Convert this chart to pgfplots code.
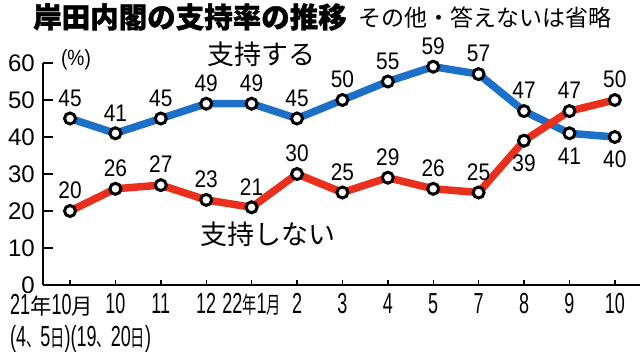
\documentclass[border=0pt]{standalone}
\usepackage{fontspec}
\setmainfont{Noto Sans CJK JP}
\newfontfamily\titlef[BoldFeatures={FakeBold=1.2}]{Noto Sans CJK JP}
\newfontfamily\numf{Liberation Sans}
\newfontfamily\numl[FakeStretch=0.87]{Liberation Sans}
\newfontfamily\numc[FakeStretch=0.62]{Liberation Sans}
\newfontfamily\jpc[FakeStretch=0.62]{Noto Sans CJK JP}
\newfontfamily\jpm[FakeStretch=0.97]{Noto Sans CJK JP}
\newcommand{\xn}[1]{{\numc\fontsize{29}{31}\selectfont #1}}
\newcommand{\xj}[1]{{\jpc\fontsize{23}{25}\selectfont #1}}
\newcommand{\xk}[1]{\smash{\jpm\fontsize{22}{24}\selectfont #1}}
\usepackage{pgfplots}
\pgfplotsset{compat=1.18}
\definecolor{sblue}{RGB}{28,112,200}
\definecolor{sred}{RGB}{234,48,28}

\begin{document}
\begin{tikzpicture}
\path[use as bounding box] (-43pt,-67pt) rectangle (597pt,285pt);
\begin{axis}[
  scale only axis, width=597pt, height=222pt,
  xmin=-0.595, xmax=12.555, ymin=0, ymax=60,
  axis x line=bottom, axis y line=left,
  axis line style={-, line width=1.4pt, black},
  ytick={0,10,...,60},
  xtick={0,...,12},
  xticklabels={,\xn{10},\xn{11},\xn{12},\xn{22}\xj{年}\xn{1}\xj{月},\xn{2},\xn{3},\xn{4},\xn{5},\xn{7},\xn{8},\xn{9},\xn{10}},
  tick align=inside,
  ytick style={line width=1.4pt, black, /pgfplots/major tick length=10pt},
  xtick style={line width=1.4pt, black, /pgfplots/major tick length=5pt},
  /pgf/number format/assume math mode=true,
  yticklabel style={font=\numf\fontsize{24}{26}\selectfont, anchor=east, inner sep=0pt, xshift=-8pt},
  xticklabel style={anchor=base, inner sep=0pt, yshift=-29pt},
  clip=false,
  lababove/.style={draw=none, mark=none, nodes near coords, point meta=y,
    every node near coord/.append style={font=\numl\fontsize{24}{26}\selectfont, text=black, inner xsep=0pt, inner ysep=12pt, anchor=south}},
  labbelow/.style={draw=none, mark=none, nodes near coords, point meta=y,
    every node near coord/.append style={font=\numl\fontsize{24}{26}\selectfont, text=black, inner xsep=0pt, inner ysep=14pt, anchor=north}},
  series/.style={line width=7.5pt, mark=*, mark size=5.5pt,
    mark options={fill=white, draw=black, line width=3pt}},
]
% 支持する
\addplot[sblue, series] coordinates {(0,45) (1,41) (2,45) (3,49) (4,49) (5,45) (6,50) (7,55) (8,59) (9,57) (10,47) (11,41) (12,40)};
% 支持しない
\addplot[sred, series] coordinates {(0,20) (1,26) (2,27) (3,23) (4,21) (5,30) (6,25) (7,29) (8,26) (9,25) (10,39) (11,47) (12,50)};
% labels
\addplot[lababove] coordinates {(0,45) (1,41) (2,45) (3,49) (4,49) (5,45) (6,50) (7,55) (8,59) (9,57) (10,47)};
\addplot[labbelow] coordinates {(11,41) (12,40)};
\addplot[lababove] coordinates {(0,20) (1,26) (2,27) (3,23) (4,21) (5,30) (6,25) (7,29) (8,26) (9,25) (11,47) (12,50)};
\addplot[labbelow] coordinates {(10,39)};
\end{axis}
% texts (px -> pt: X-43, 285-Y)
\node[font=\titlef\bfseries\fontsize{28.5}{30}\selectfont, inner sep=0pt] at (147pt,268pt) {岸田内閣の支持率の推移};
\node[font=\fontsize{23}{25}\selectfont, inner sep=0pt] at (441.5pt,267pt) {その他・答えないは省略};
\node[font=\fontsize{27}{29}\selectfont, inner sep=0pt] at (218pt,231pt) {支持する};
\node[font=\fontsize{27}{29}\selectfont, inner sep=0pt] at (225pt,51pt) {支持しない};
\node[font=\numl\fontsize{22}{24}\selectfont, inner sep=0pt] at (33pt,225pt) {(\%)};
\node[inner sep=0pt, anchor=base west] at (-33pt,-30pt) {\xn{21}\xk{年}\xn{10}\xk{月}};
\node[inner sep=0pt, anchor=base west] at (-33pt,-62pt) {\xn{(4}\xj{、}\xn{5}\xj{日}\xn{)(19}\xj{、}\xn{20}\xj{日}\xn{)}};
\end{tikzpicture}
\end{document}
